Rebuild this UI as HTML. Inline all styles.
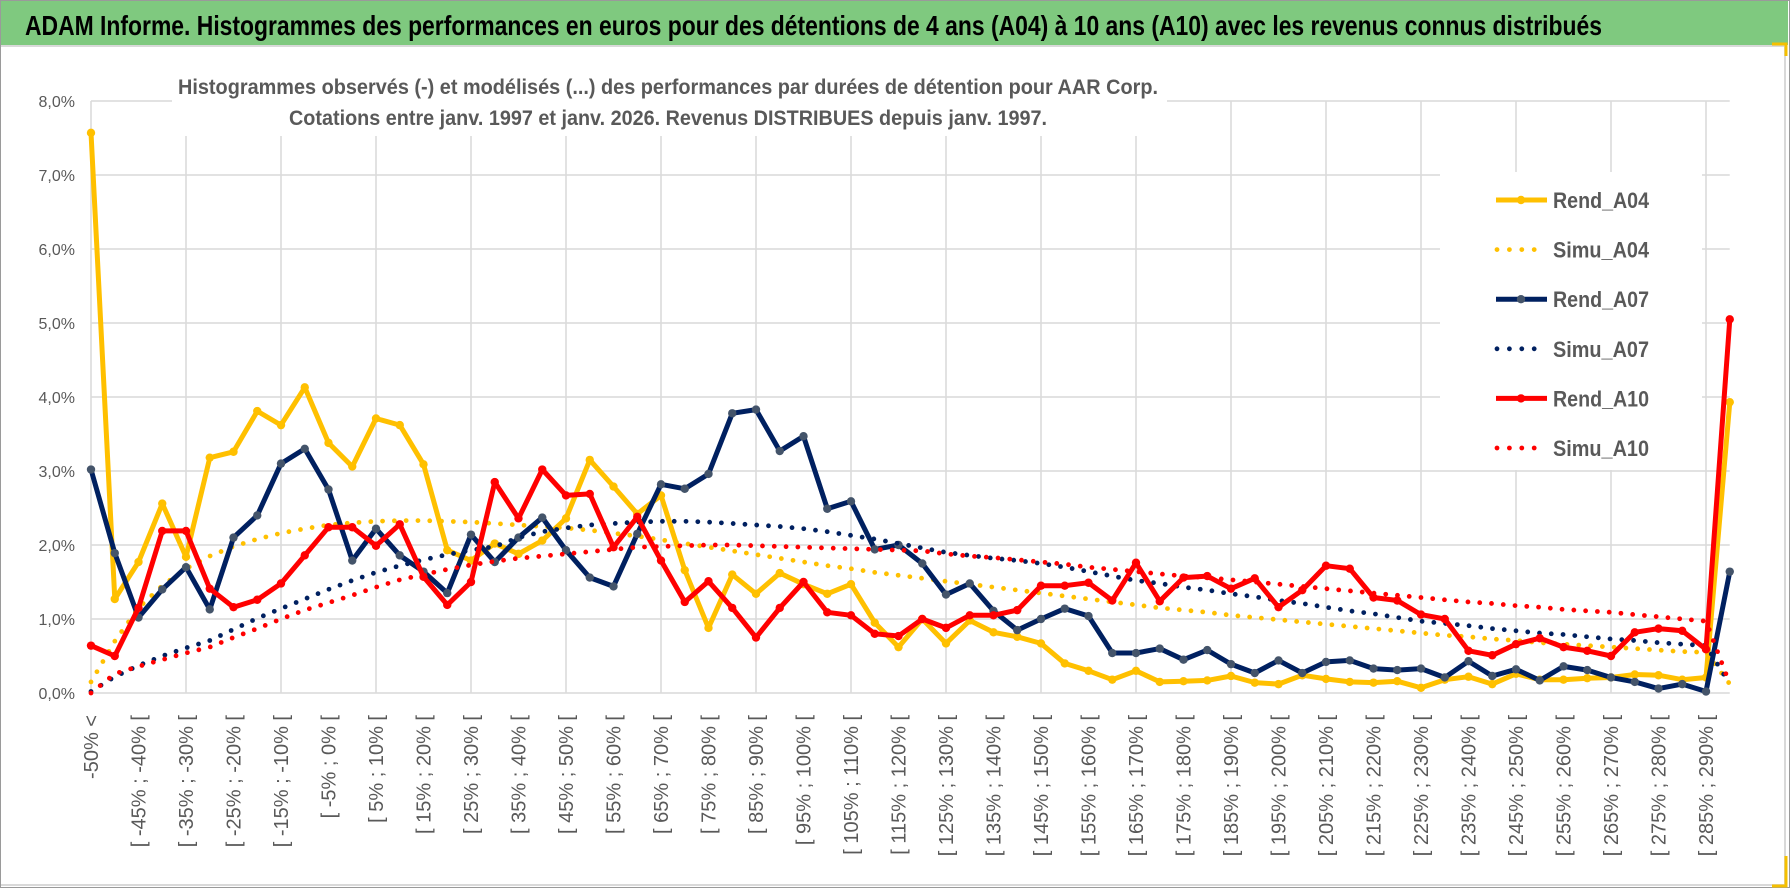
<!DOCTYPE html>
<html><head><meta charset="utf-8">
<style>
html,body{margin:0;padding:0;background:#fff;}
svg{display:block;font-family:"Liberation Sans",sans-serif;}
</style></head>
<body>
<svg id="chart" width="1790" height="888" viewBox="0 0 1790 888" xmlns="http://www.w3.org/2000/svg">
  <rect x="0.5" y="0.5" width="1789" height="887" fill="#fff" stroke="#9a9a9a"/>
  <rect x="1" y="1" width="1787" height="44" fill="#7fc97f"/>
  <line x1="1" y1="46" x2="1786" y2="46" stroke="#d9d9d9" stroke-width="2"/>
  <line x1="1785" y1="46" x2="1785" y2="885" stroke="#d9d9d9" stroke-width="2"/>
  <line x1="1" y1="885" x2="1785" y2="885" stroke="#d9d9d9" stroke-width="2"/>
  <path d="M1772 44 H1786 V56" fill="none" stroke="#f5c000" stroke-width="3"/>
  <path d="M1772 886 H1786 V856" fill="none" stroke="#f5c000" stroke-width="3"/>
  <text x="25" y="35" font-size="28" font-weight="bold" fill="#000" textLength="1577" lengthAdjust="spacingAndGlyphs">ADAM Informe. Histogrammes des performances en euros pour des détentions de 4 ans (A04) à 10 ans (A10) avec les revenus connus distribués</text>
  <g id="grid"></g>
  <rect x="172" y="62" width="995" height="74" fill="#fff"/>
  <text x="668" y="94" text-anchor="middle" font-size="21" font-weight="bold" fill="#595959" textLength="980" lengthAdjust="spacingAndGlyphs">Histogrammes observés (-) et modélisés (...) des performances par durées de détention pour AAR Corp.</text>
  <text x="668" y="125" text-anchor="middle" font-size="21" font-weight="bold" fill="#595959" textLength="758" lengthAdjust="spacingAndGlyphs">Cotations entre janv. 1997 et janv. 2026. Revenus DISTRIBUES depuis janv. 1997.</text>
  <g id="yticks"></g>
  <g id="xticks"></g>
  <g id="series"></g>
  <g id="legend"></g>
</svg>
<script>
const categories = ["-50% <","[ -50% ; -45% [","[ -45% ; -40% [","[ -40% ; -35% [","[ -35% ; -30% [","[ -30% ; -25% [","[ -25% ; -20% [","[ -20% ; -15% [","[ -15% ; -10% [","[ -10% ; -5% [","[ -5% ; 0% [","[ 0% ; 5% [","[ 5% ; 10% [","[ 10% ; 15% [","[ 15% ; 20% [","[ 20% ; 25% [","[ 25% ; 30% [","[ 30% ; 35% [","[ 35% ; 40% [","[ 40% ; 45% [","[ 45% ; 50% [","[ 50% ; 55% [","[ 55% ; 60% [","[ 60% ; 65% [","[ 65% ; 70% [","[ 70% ; 75% [","[ 75% ; 80% [","[ 80% ; 85% [","[ 85% ; 90% [","[ 90% ; 95% [","[ 95% ; 100% [","[ 100% ; 105% [","[ 105% ; 110% [","[ 110% ; 115% [","[ 115% ; 120% [","[ 120% ; 125% [","[ 125% ; 130% [","[ 130% ; 135% [","[ 135% ; 140% [","[ 140% ; 145% [","[ 145% ; 150% [","[ 150% ; 155% [","[ 155% ; 160% [","[ 160% ; 165% [","[ 165% ; 170% [","[ 170% ; 175% [","[ 175% ; 180% [","[ 180% ; 185% [","[ 185% ; 190% [","[ 190% ; 195% [","[ 195% ; 200% [","[ 200% ; 205% [","[ 205% ; 210% [","[ 210% ; 215% [","[ 215% ; 220% [","[ 220% ; 225% [","[ 225% ; 230% [","[ 230% ; 235% [","[ 235% ; 240% [","[ 240% ; 245% [","[ 245% ; 250% [","[ 250% ; 255% [","[ 255% ; 260% [","[ 260% ; 265% [","[ 265% ; 270% [","[ 270% ; 275% [","[ 275% ; 280% [","[ 280% ; 285% [","[ 285% ; 290% [","290% >="];
const yTickValues = [0,1,2,3,4,5,6,7,8];
const yTickLabels = ["0,0%","1,0%","2,0%","3,0%","4,0%","5,0%","6,0%","7,0%","8,0%"];
const rendA04 = [7.57,1.27,1.77,2.56,1.84,3.18,3.26,3.81,3.62,4.13,3.38,3.06,3.71,3.62,3.09,1.93,1.79,2.02,1.88,2.06,2.36,3.15,2.79,2.42,2.67,1.66,0.88,1.60,1.34,1.62,1.47,1.34,1.47,0.95,0.62,1.00,0.67,0.98,0.82,0.76,0.67,0.40,0.30,0.18,0.30,0.15,0.16,0.17,0.23,0.14,0.12,0.24,0.19,0.15,0.14,0.16,0.07,0.18,0.22,0.12,0.26,0.18,0.18,0.20,0.21,0.25,0.24,0.18,0.21,3.93];
const simuA04 = [0.15,0.70,1.15,1.45,1.68,1.85,1.98,2.08,2.16,2.22,2.27,2.30,2.32,2.33,2.33,2.32,2.31,2.29,2.27,2.25,2.23,2.20,2.16,2.12,2.07,2.02,1.97,1.92,1.87,1.82,1.77,1.72,1.68,1.63,1.59,1.55,1.51,1.47,1.43,1.39,1.35,1.31,1.27,1.23,1.19,1.15,1.12,1.09,1.05,1.02,0.99,0.96,0.93,0.90,0.87,0.84,0.81,0.78,0.76,0.73,0.71,0.68,0.66,0.64,0.62,0.60,0.58,0.56,0.55,0.12];
const rendA07 = [3.02,1.89,1.02,1.40,1.70,1.13,2.10,2.40,3.10,3.30,2.75,1.79,2.22,1.86,1.64,1.35,2.14,1.77,2.10,2.37,1.93,1.56,1.44,2.15,2.82,2.76,2.96,3.78,3.83,3.27,3.47,2.49,2.59,1.94,2.00,1.75,1.33,1.48,1.11,0.85,1.00,1.14,1.04,0.54,0.54,0.60,0.45,0.58,0.39,0.27,0.44,0.27,0.42,0.44,0.33,0.31,0.33,0.21,0.43,0.23,0.32,0.17,0.36,0.31,0.21,0.15,0.06,0.12,0.02,1.64];
const simuA07 = [0.02,0.22,0.37,0.50,0.61,0.71,0.86,1.01,1.14,1.27,1.40,1.52,1.63,1.72,1.80,1.87,1.93,1.98,2.10,2.18,2.23,2.27,2.29,2.31,2.32,2.32,2.31,2.29,2.27,2.25,2.22,2.18,2.13,2.08,2.02,1.96,1.90,1.86,1.82,1.79,1.75,1.70,1.64,1.58,1.52,1.48,1.43,1.39,1.34,1.30,1.25,1.21,1.16,1.11,1.07,1.02,0.97,0.94,0.91,0.87,0.84,0.81,0.79,0.76,0.73,0.71,0.68,0.66,0.64,0.12];
const rendA10 = [0.64,0.50,1.15,2.19,2.19,1.41,1.16,1.26,1.48,1.86,2.24,2.24,1.99,2.28,1.57,1.19,1.50,2.85,2.36,3.02,2.67,2.69,1.97,2.38,1.79,1.23,1.51,1.15,0.75,1.15,1.50,1.09,1.05,0.80,0.77,1.00,0.88,1.05,1.05,1.12,1.45,1.45,1.49,1.25,1.76,1.24,1.56,1.58,1.41,1.55,1.16,1.39,1.72,1.68,1.29,1.25,1.06,1.00,0.57,0.51,0.66,0.74,0.62,0.57,0.50,0.82,0.87,0.84,0.59,5.05];
const simuA10 = [0.00,0.26,0.36,0.45,0.54,0.62,0.75,0.87,1.00,1.12,1.22,1.32,1.43,1.53,1.60,1.67,1.73,1.78,1.82,1.85,1.88,1.91,1.94,1.97,1.98,1.99,2.00,2.00,1.99,1.98,1.97,1.96,1.95,1.94,1.93,1.92,1.88,1.85,1.83,1.80,1.77,1.74,1.70,1.67,1.64,1.61,1.58,1.56,1.53,1.50,1.47,1.44,1.41,1.38,1.35,1.32,1.29,1.26,1.23,1.21,1.18,1.16,1.13,1.11,1.09,1.06,1.03,1.00,0.97,0.12];

const NS = "http://www.w3.org/2000/svg";
const X0 = 91, DX = 23.75, Y0 = 693, DY = 74;
function xs(i){ return X0 + DX * i; }
function ys(v){ return Y0 - DY * v; }
function mk(tag, attrs, parent){
  const e = document.createElementNS(NS, tag);
  for (const k in attrs) e.setAttribute(k, attrs[k]);
  parent.appendChild(e);
  return e;
}
const grid = document.getElementById('grid');
const xEnd = xs(categories.length - 1);
yTickValues.forEach(v => {
  const l = mk('line', {x1: X0, x2: xEnd, y1: ys(v), y2: ys(v), stroke: '#d9d9d9', 'stroke-width': 1.5}, grid);
  
  
});
for (let i = 0; i < categories.length; i += 4) {
  const l = mk('line', {x1: xs(i), x2: xs(i), y1: ys(8), y2: ys(0), stroke: '#d9d9d9', 'stroke-width': 1.5}, grid);
  
  
}
const yt = document.getElementById('yticks');
yTickValues.forEach((v, i) => {
  const t = mk('text', {x: 75, y: ys(v) + 6, 'text-anchor': 'end', 'font-size': 16, fill: '#595959'}, yt);
  t.textContent = yTickLabels[i];
  
  
});
const xt = document.getElementById('xticks');
categories.forEach((c, i) => {
  if (i % 2 !== 0) return;
  const x = xs(i) + 7;
  const t = mk('text', {x: x, y: 715, 'text-anchor': 'end', 'font-size': 20, fill: '#595959', transform: 'rotate(-90 ' + x + ' 715)'}, xt);
  t.textContent = c;
  
  
});
const sg = document.getElementById('series');
function pts(arr){ return arr.map((v, i) => xs(i).toFixed(1) + ',' + ys(v).toFixed(1)).join(' '); }
function solid(arr, color, mcolor, name){
  const g = mk('g', {}, sg);
  
  
  mk('polyline', {points: pts(arr), fill: 'none', stroke: color, 'stroke-width': 5, 'stroke-linejoin': 'round'}, g);
  arr.forEach((v, i) => {
    const c = mk('circle', {cx: xs(i), cy: ys(v), r: 4.2, fill: mcolor}, g);
    
    
  });
}
function dotted(arr, color, name){
  const p = mk('polyline', {points: pts(arr), fill: 'none', stroke: color, 'stroke-width': 4.8, 'stroke-linecap': 'round', 'stroke-dasharray': '0 11.8'}, sg);
  
  
}
solid(rendA04, '#ffc000', '#ffc000', 'rend-a04-line');
dotted(simuA04, '#ffc000', 'simu-a04-line');
solid(rendA07, '#002060', '#44546a', 'rend-a07-line');
dotted(simuA07, '#002060', 'simu-a07-line');
solid(rendA10, '#ff0000', '#ff0000', 'rend-a10-line');
dotted(simuA10, '#ff0000', 'simu-a10-line');

const lg = document.getElementById('legend');
mk('rect', {x: 1440, y: 172, width: 262, height: 298, fill: '#fff'}, lg);
const legendItems = [
  ['Rend_A04', '#ffc000', '#ffc000', false],
  ['Simu_A04', '#ffc000', null, true],
  ['Rend_A07', '#002060', '#44546a', false],
  ['Simu_A07', '#002060', null, true],
  ['Rend_A10', '#ff0000', '#ff0000', false],
  ['Simu_A10', '#ff0000', null, true]
];
legendItems.forEach((it, i) => {
  const y = 200 + i * 49.6;
  const g = mk('g', {}, lg);
  
  
  if (it[3]) {
    mk('line', {x1: 1497, x2: 1546, y1: y, y2: y, stroke: it[1], 'stroke-width': 4.8, 'stroke-linecap': 'round', 'stroke-dasharray': '0 12.4'}, g);
  } else {
    mk('line', {x1: 1496, x2: 1547, y1: y, y2: y, stroke: it[1], 'stroke-width': 5}, g);
    mk('circle', {cx: 1521, cy: y, r: 4.2, fill: it[2]}, g);
  }
  const t = mk('text', {x: 1553, y: y + 8, 'font-size': 22, 'font-weight': 'bold', fill: '#595959', textLength: 96, lengthAdjust: 'spacingAndGlyphs'}, g);
  t.textContent = it[0];
});
</script>
</body></html>
